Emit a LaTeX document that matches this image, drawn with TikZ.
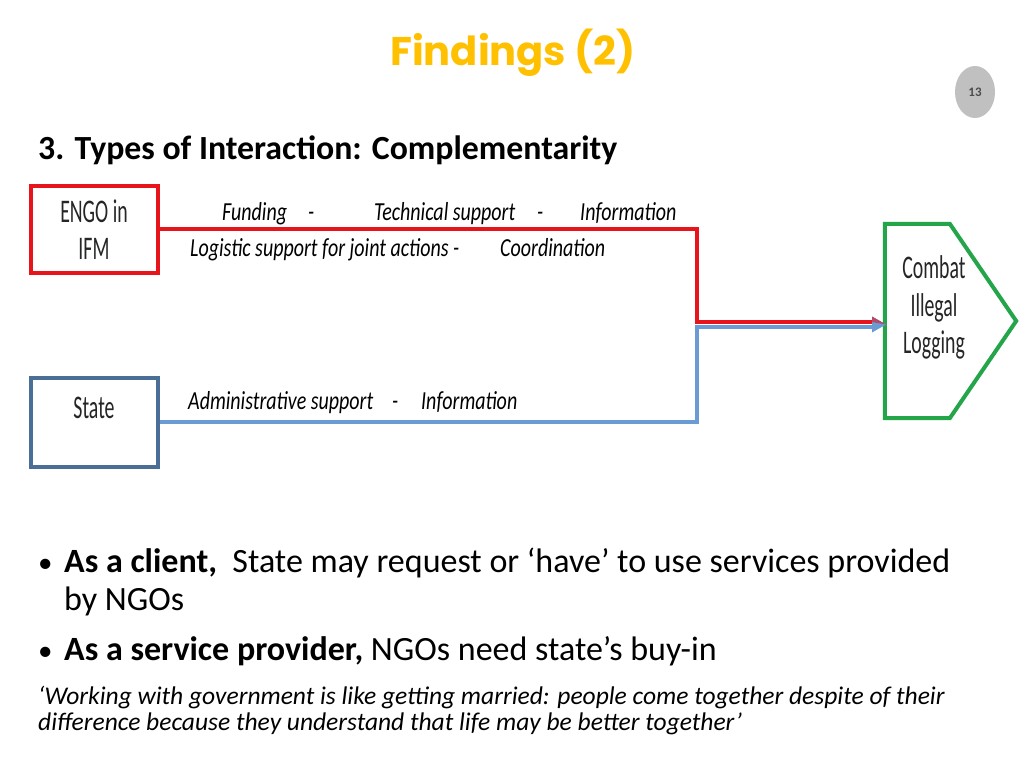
\documentclass[tikz,border=0pt]{standalone}
\usepackage{fontspec}
\setmainfont{Carlito}
\newfontfamily\titlefont{Poppins}
\usetikzlibrary{arrows.meta,shapes.geometric}
\definecolor{titleyellow}{HTML}{FFC000}
\definecolor{engored}{HTML}{E8141B}
\definecolor{statebox}{HTML}{4A6E96}
\definecolor{stateline}{HTML}{6A9BD3}
\definecolor{goalgreen}{HTML}{25A54A}
\definecolor{pagegray}{HTML}{C0C0C0}
\newcommand{\tallc}[1]{\scalebox{1}[1.3]{#1}}
\newcommand{\tallb}[1]{\scalebox{0.9}[1.5]{#1}}
\tikzset{
  lbl/.style={anchor=base west, inner sep=0pt, font=\fontsize{20}{24}\selectfont\itshape},
  boxtxt/.style={anchor=base, inner sep=0pt, font=\fontsize{22}{26}\selectfont, text=black!85},
  bultxt/.style={anchor=base west, inner sep=0pt, font=\fontsize{34}{40}\selectfont},
}
\begin{document}
\begin{tikzpicture}[x=1pt,y=-1pt]
\useasboundingbox[fill=white] (0,0) rectangle (1024,768);
% title
\node[anchor=base, inner sep=0pt, text=titleyellow, font=\titlefont\bfseries\fontsize{40}{48}\selectfont] (title) at (513,66) {Findings (2)};
\node[ellipse, fill=pagegray, minimum width=40, minimum height=52, inner sep=0pt, font=\bfseries\fontsize{13}{15}\selectfont, text=black!70] (page) at (975,92) {13};
\node[anchor=base west, inner sep=0pt, font=\bfseries\fontsize{33.8}{40}\selectfont] (heading) at (38,159) {3. Types of Interaction: Complementarity};
% boxes
\node[draw=engored, line width=4pt, minimum width=127, minimum height=87, inner sep=0pt] (engo) at (94,229) {};
\node[boxtxt] (engotxt1) at (94,222) {\tallb{ENGO in}};
\node[boxtxt] (engotxt2) at (94,259) {\tallb{IFM}};
\node[draw=statebox, line width=4pt, minimum width=127, minimum height=89, inner sep=0pt] (state) at (94,422) {};
\node[boxtxt] (statetxt) at (94,418) {\tallb{State}};
% goal
\node[minimum width=131, minimum height=194, inner sep=0pt] (goal) at (950.5,321) {};
\draw[goalgreen, line width=4pt, line join=miter] (goal.north west) -- ([xshift=65]goal.north west) -- (goal.east) -- ([xshift=65]goal.south west) -- (goal.south west) -- cycle;
\node[boxtxt] (goaltxt1) at (934,278) {\tallb{Combat}};
\node[boxtxt] (goaltxt2) at (934,316) {\tallb{Illegal}};
\node[boxtxt] (goaltxt3) at (934,353) {\tallb{Logging}};
% connectors
\coordinate (rc) at (697,229);
\coordinate (rm) at (697,322);
\coordinate (re) at (874,322);
\coordinate (bc) at (697,422);
\coordinate (bm) at (697,327);
\coordinate (be) at (874,327);
\coordinate (tip) at (886,324.5);
\coordinate (tipu) at (872,316.5);
\coordinate (tipd) at (872,332.5);
\coordinate (tipm) at (872,322);
\draw[stateline, line width=4pt] (state.east) -- (bc) -- (bm) -- (be);
\draw[engored, line width=3.5pt] (engo.east) -- (rc) -- (rm) -- (re);
\fill[stateline] (tip) -- (tipu) -- (tipd) -- cycle;
\fill[engored!60!stateline] (tip) -- (tipu) -- (tipm) -- cycle;
% labels
\node[lbl] (l1) at (222,220) {\tallc{Funding}};
\node[lbl] (l2) at (308,220) {\tallc{-}};
\node[lbl] (l3) at (374,220) {\tallc{Technical support}};
\node[lbl] (l4) at (537,220) {\tallc{-}};
\node[lbl] (l5) at (580,220) {\tallc{Information}};
\node[lbl] (l6) at (190,256) {\tallc{Logistic support for joint actions -}};
\node[lbl] (l7) at (500,256) {\tallc{Coordination}};
\node[lbl] (l8) at (188,409) {\tallc{Administrative support}};
\node[lbl] (l9) at (392,409) {\tallc{-}};
\node[lbl] (l10) at (421,409) {\tallc{Information}};
% bullets
\node[anchor=base west, inner sep=0pt, font=\fontsize{29}{35}\selectfont] (b1) at (38,572) {•};
\node[bultxt] (t1) at (64,572) {\textbf{As a client,}\ \ State may request or ‘have’ to use services provided};
\node[bultxt] (t1b) at (64,610) {by NGOs};
\node[anchor=base west, inner sep=0pt, font=\fontsize{29}{35}\selectfont] (b2) at (38,660) {•};
\node[bultxt] (t2) at (64,660) {\textbf{As a service provider,} NGOs need state’s buy-in};
\node[anchor=base west, inner sep=0pt, font=\itshape\fontsize{25.5}{30}\selectfont] (q1) at (38,704) {‘Working with government is like getting married: people come together despite of their};
\node[anchor=base west, inner sep=0pt, font=\itshape\fontsize{25.5}{30}\selectfont] (q2) at (38,730) {difference because they understand that life may be better together’};
\end{tikzpicture}
\end{document}
